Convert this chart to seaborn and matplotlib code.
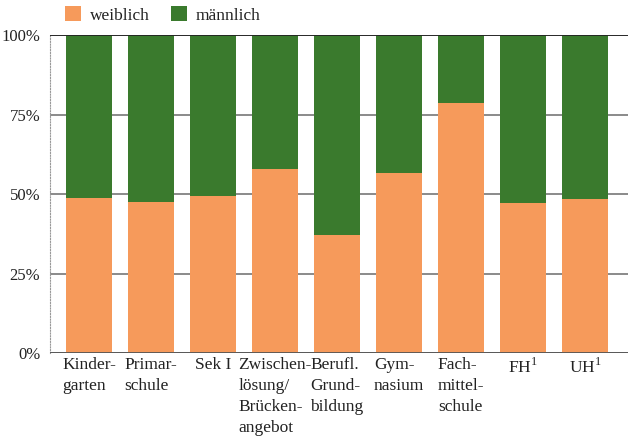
import matplotlib
matplotlib.use("Agg")
import matplotlib.pyplot as plt
from matplotlib.patches import Patch
import seaborn as sns
import pandas as pd

categories = ["Kinder-\ngarten", "Primar-\nschule", "Sek I", "Zwischen-\nlösung/\nBrücken-\nangebot",
              "Berufl.\nGrund-\nbildung", "Gym-\nnasium", "Fach-\nmittel-\nschule", "FH$^1$", "UH$^1$"]
weiblich = [48.7, 47.5, 49.4, 57.9, 37.1, 56.6, 78.6, 47.2, 48.4]
total = [100] * len(categories)
yticks = [0, 25, 50, 75, 100]
ytick_labels = ["0%", "25%", "50%", "75%", "100%"]

c_w = "#F69A5B"
c_m = "#3A7A2D"

sns.set_style("white")
plt.rcParams["font.family"] = ["Liberation Serif", "DejaVu Serif"]
plt.rcParams["mathtext.fontset"] = "custom"
plt.rcParams["mathtext.rm"] = "Liberation Serif"

df = pd.DataFrame({"cat": categories, "w": weiblich, "t": total})

fig = plt.figure(figsize=(6.28, 4.36), dpi=100)
ax = fig.add_axes([50 / 628, 1 - 353 / 436, 578 / 628, 318 / 436])

sns.barplot(data=df, x="cat", y="t", color=c_m, width=0.74, saturation=1, ax=ax, order=categories,
            linewidth=0, edgecolor="none")
sns.barplot(data=df, x="cat", y="w", color=c_w, width=0.74, saturation=1, ax=ax, order=categories,
            linewidth=0, edgecolor="none")

ax.set_ylim(0, 100)
ax.set_xlim(-0.63, 8.69)
ax.set_yticks(yticks)
ax.set_yticklabels(ytick_labels, fontsize=12, color="#222222")
ax.set_xlabel("")
ax.set_ylabel("")
ax.tick_params(axis="both", length=0)
ax.tick_params(axis="y", pad=7)
ax.tick_params(axis="x", pad=3)

for lbl in ax.get_xticklabels():
    lbl.set_fontsize(12.5)
    lbl.set_color("#222222")
    lbl.set_horizontalalignment("center")
    lbl.set_verticalalignment("top")
    lbl.set_multialignment("left")
    lbl.set_linespacing(1.42)

ax.set_axisbelow(True)
ax.yaxis.grid(True, color="#777777", linewidth=1.2)
for s in ["top", "right", "bottom"]:
    ax.spines[s].set_visible(False)
ax.spines["left"].set_visible(True)
ax.spines["left"].set_linestyle((0, (1, 1.5)))
ax.spines["left"].set_color("#999999")
ax.spines["left"].set_linewidth(0.8)
ax.axhline(0, color="#555555", linewidth=1.3, zorder=3)
ax.axhline(100, color="#222222", linewidth=1.3, zorder=3)

handles = [Patch(facecolor=c_w, edgecolor="none", label="weiblich"),
           Patch(facecolor=c_m, edgecolor="none", label="männlich")]
fig.legend(handles=handles, loc="center left", bbox_to_anchor=(49 / 628, 1 - 15 / 436), ncol=2,
           frameon=False, fontsize=12.5, handlelength=0.95, handleheight=0.95, handletextpad=0.5,
           columnspacing=1.2, labelcolor="#222222")

fig.savefig("out.png", dpi=100)
